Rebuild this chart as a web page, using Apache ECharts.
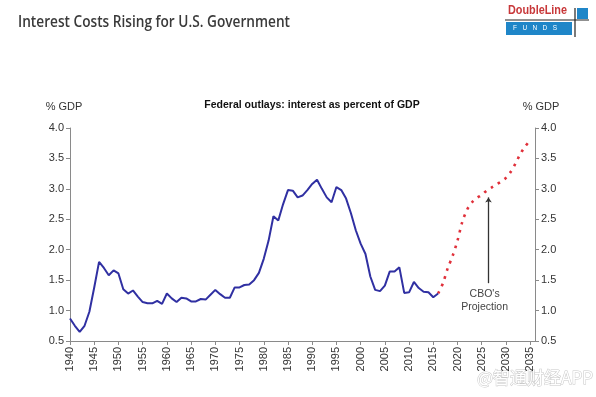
<!DOCTYPE html>
<html><head><meta charset="utf-8">
<script src="https://cdn.jsdelivr.net/npm/echarts@6/dist/echarts.min.js"></script>
<style>html,body{margin:0;padding:0;background:#fff}#c{width:596px;height:397px}</style>
</head><body><div id="c"></div>
<script>
const actualYears = [];
for (let y = 1940; y <= 2016; y++) actualYears.push(y);
const actualValues = [0.87,0.75,0.65,0.75,0.98,1.38,1.80,1.70,1.58,1.66,1.61,1.35,1.28,1.33,1.23,1.14,1.12,1.12,1.16,1.11,
  1.28,1.20,1.14,1.21,1.20,1.15,1.15,1.19,1.18,1.26,1.34,1.27,1.21,1.21,1.38,1.38,1.42,1.43,1.50,1.62,
  1.85,2.15,2.55,2.48,2.75,2.98,2.97,2.86,2.89,2.98,3.08,3.15,3.00,2.86,2.78,3.03,2.98,2.84,2.60,2.32,
  2.10,1.93,1.56,1.34,1.32,1.41,1.64,1.64,1.71,1.29,1.30,1.47,1.37,1.31,1.30,1.22,1.28];
const projYears = [];
for (let y = 2016; y <= 2035; y++) projYears.push(y);
const projValues = [1.28,1.45,1.70,1.90,2.15,2.46,2.66,2.78,2.85,2.90,2.97,3.02,3.07,3.12,3.18,3.28,3.42,3.58,3.70,3.80];
const yTicks = [0.5,1.0,1.5,2.0,2.5,3.0,3.5,4.0];
const xTicksStep = 5;
const arrowFrom = [2026.4, 1.45];
const arrowTo = [2026.4, 2.86];
const annoText = "CBO's\nProjection";
const annoPos = [2025.6, 1.16];
const titleText = 'Interest Costs Rising for U.S. Government';
const logoText = 'DoubleLine';

function fitScale(text, font, target) {
  const ctx = document.createElement('canvas').getContext('2d');
  ctx.font = font;
  return target / ctx.measureText(text).width;
}
const titleFont = '600 17px "Open Sans"';
const logoFont = 'bold 12px "Liberation Sans"';

const chart = echarts.init(document.getElementById('c'));
const axisCol = '#8a8a8a';
const txt = '#333';
const yAxisCommon = {
  type: 'value', min: yTicks[0], max: yTicks[yTicks.length-1], interval: 0.5,
  axisLine: {show: true, lineStyle: {color: axisCol, width: 1}},
  axisTick: {show: true, length: 4, lineStyle: {color: axisCol}},
  splitLine: {show: false},
  axisLabel: {color: txt, fontSize: 11, fontFamily: 'Liberation Sans', formatter: v => v.toFixed(1), margin: 6},
  nameGap: 16
};
chart.setOption({
  animation: false,
  backgroundColor: '#fff',
  grid: {left: 70, right: 61, top: 128, bottom: 56},
  title: [
    {text: 'Federal outlays: interest as percent of GDP', left: 307, top: 95, textAlign: 'center',
     textStyle: {fontFamily: 'Liberation Sans', fontSize: 10.5, fontWeight: 'bold', color: '#111'}}
  ],
  xAxis: {
    type: 'value', min: 1940, max: 2036, interval: xTicksStep,
    axisLine: {show: true, lineStyle: {color: axisCol}},
    axisTick: {show: true, length: 4, lineStyle: {color: axisCol}},
    splitLine: {show: false},
    axisLabel: {rotate: 90, color: txt, fontSize: 11, fontFamily: 'Liberation Sans', showMaxLabel: false, margin: 6,
      formatter: v => (v % 5 === 0 ? String(v) : '')}
  },
  yAxis: [
    Object.assign({}, yAxisCommon, {position: 'left', name: '% GDP', nameLocation: 'end',
      nameTextStyle: {color: txt, fontSize: 11, fontFamily: 'Liberation Sans', align: 'center', padding: [0, 12, 0, 0]}}),
    Object.assign({}, yAxisCommon, {position: 'right', name: '% GDP', nameLocation: 'end',
      nameTextStyle: {color: txt, fontSize: 11, fontFamily: 'Liberation Sans', align: 'center', padding: [0, 0, 0, 12]}})
  ],
  series: [
    {type: 'line', data: actualYears.map((y,i)=>[y, actualValues[i]]), showSymbol: false, symbol: 'none',
     lineStyle: {color: '#3030a2', width: 2}, z: 3,
     markLine: {silent: true, symbol: ['none','arrow'], symbolSize: [5,5],
       lineStyle: {color: '#333', width: 1.3, type: 'solid'}, label: {show: false},
       data: [[{coord: arrowFrom}, {coord: arrowTo}]]},
     markPoint: {symbol: 'circle', symbolSize: 0, data: [{coord: annoPos, value: annoText}],
       label: {show: true, formatter: annoText, color: '#444', fontSize: 10.5, fontFamily: 'Liberation Sans', lineHeight: 13, align: 'center'}}
    },
    {type: 'line', data: projYears.map((y,i)=>[y, projValues[i]]), showSymbol: false, symbol: 'none', smooth: 0.3,
     lineStyle: {color: '#e0303a', width: 2.6, type: [2.6, 5.5]}, z: 2}
  ],
  graphic: [
    {type: 'text', x: 18, y: 14, scaleX: fitScale(titleText, titleFont, 272),
     style: {text: titleText, fill: '#3a3a3a', font: titleFont}},
    {type: 'text', x: 508, y: 5, scaleX: fitScale(logoText, logoFont, 59),
     style: {text: logoText, fill: '#c8383a', font: logoFont}},
    {type: 'rect', shape: {x: 506, y: 22, width: 66, height: 13}, style: {fill: '#1f86c8'}},
    {type: 'text', x: 513, y: 25, style: {text: 'F   U   N   D   S', fill: '#fff', font: '6.5px "Liberation Sans"'}},
    {type: 'rect', shape: {x: 577, y: 8, width: 11, height: 11}, style: {fill: '#1f86c8'}},
    {type: 'line', shape: {x1: 505, y1: 20, x2: 589, y2: 20}, style: {stroke: '#222', lineWidth: 1.2}},
    {type: 'line', shape: {x1: 575, y1: 8, x2: 575, y2: 37}, style: {stroke: '#222', lineWidth: 1.2}},
    {type: 'text', x: 477, y: 369, style: {text: '@智通财经APP', fill: '#fff', stroke: '#c8c8c8', lineWidth: 1, font: '17px "Noto Sans CJK SC"'}}
  ]
});
</script></body></html>
